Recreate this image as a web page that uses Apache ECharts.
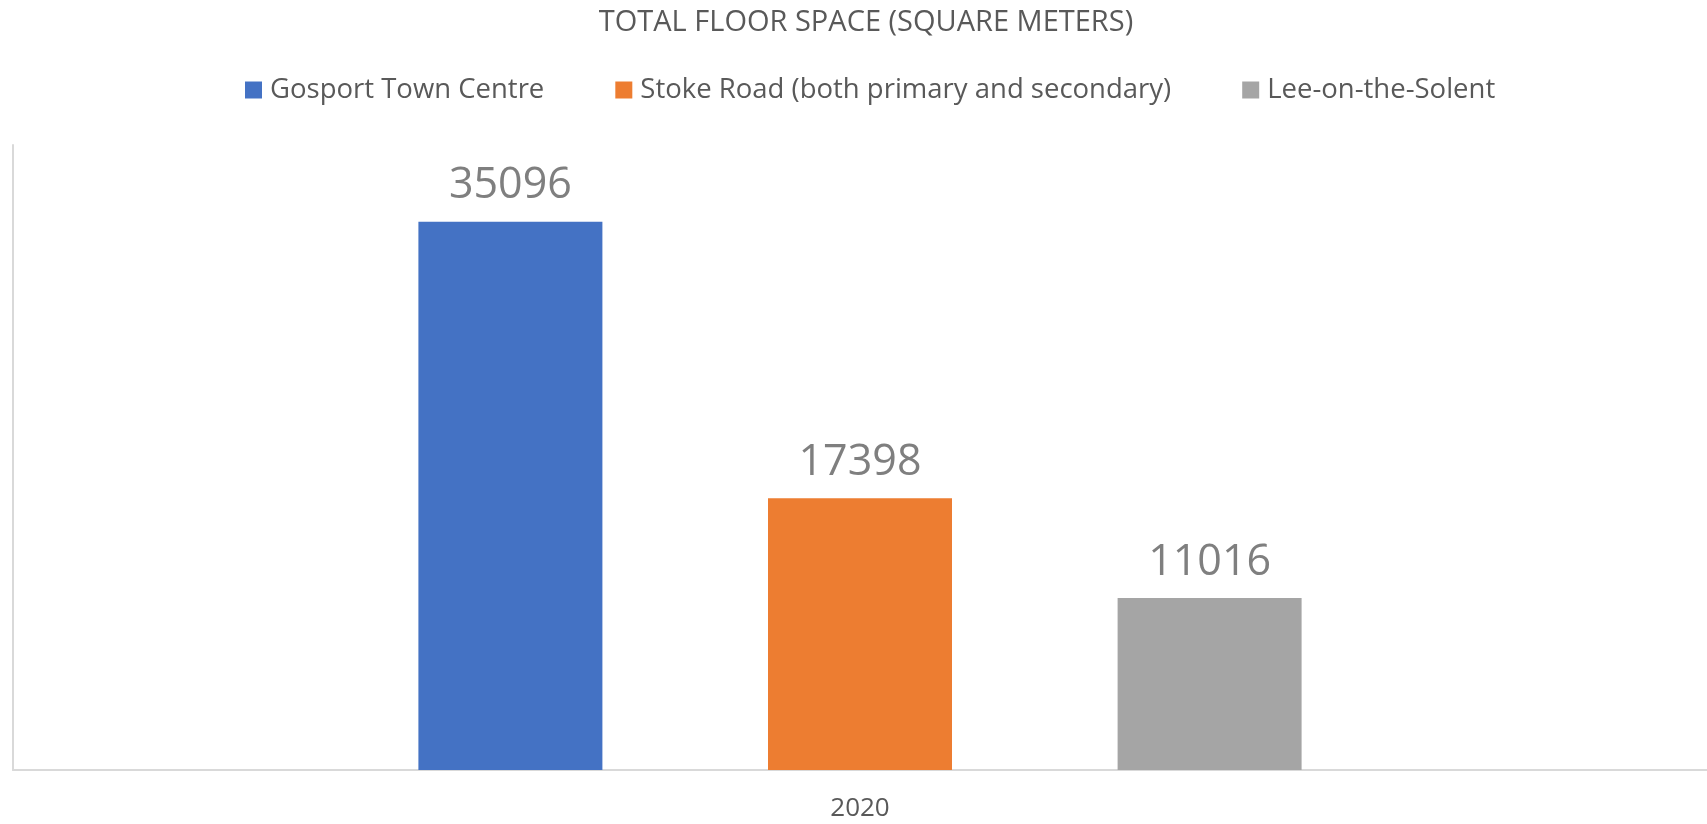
<!DOCTYPE html>
<html>
<head>
<meta charset="utf-8">
<script src="https://cdn.jsdelivr.net/npm/echarts@6/dist/echarts.min.js"></script>
<style>
html,body{margin:0;padding:0;background:#fff;}
#main{width:1707px;height:824px;}
</style>
</head>
<body>
<div id="main"></div>
<script>
const titleText = 'TOTAL FLOOR SPACE (SQUARE METERS)';
const categories = ['2020'];
const seriesNames = ['Gosport Town Centre', 'Stoke Road (both primary and secondary)', 'Lee-on-the-Solent'];
const gosport = [35096];
const stokeRoad = [17398];
const leeOnTheSolent = [11016];
const colors = ['#4472C4', '#ED7D31', '#A5A5A5'];

const font = '"Open Sans", "Noto Sans", sans-serif';
const seriesData = [gosport, stokeRoad, leeOnTheSolent];

const chart = echarts.init(document.getElementById('main'), null, {renderer: 'canvas'});
chart.setOption({
  backgroundColor: '#ffffff',
  animation: false,
  title: {
    text: titleText,
    left: 861,
    textAlign: 'center',
    top: 3,
    textStyle: {fontFamily: font, fontSize: 29, fontWeight: 'normal', color: '#595959'}
  },
  legend: {
    data: seriesNames,
    left: 240,
    top: 71,
    icon: 'rect',
    itemWidth: 17,
    itemHeight: 17,
    itemGap: 71,
    textStyle: {fontFamily: font, fontSize: 27.5, color: '#595959', padding: [0, 0, 0, 3]}
  },
  grid: {left: 13, width: 1700, top: 145, bottom: 54, containLabel: false},
  xAxis: {
    type: 'category',
    data: categories,
    axisLine: {show: true, lineStyle: {color: '#d9d9d9', width: 2}},
    axisTick: {show: false},
    axisLabel: {fontFamily: font, fontSize: 26, color: '#595959', margin: 26}
  },
  yAxis: {
    type: 'value',
    min: 0,
    max: 40000,
    axisLine: {show: true, lineStyle: {color: '#d9d9d9', width: 2}},
    axisTick: {show: false},
    axisLabel: {show: false},
    splitLine: {show: false}
  },
  series: seriesNames.map((name, i) => ({
    name: name,
    type: 'bar',
    data: seriesData[i],
    barWidth: 184,
    barGap: '90%',
    itemStyle: {color: colors[i]},
    label: {
      show: true,
      position: 'top',
      distance: 14,
      fontFamily: font,
      fontSize: 43,
      color: '#7f7f7f'
    }
  }))
});
</script>
</body>
</html>
